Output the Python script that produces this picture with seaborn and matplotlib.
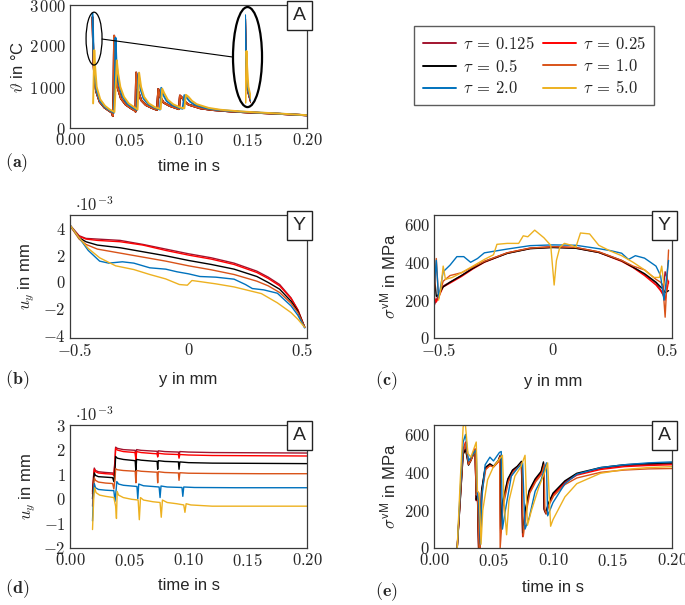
import numpy as np
import pandas as pd
import seaborn as sns
import matplotlib.pyplot as plt
from matplotlib.patches import Ellipse
from matplotlib.ticker import FuncFormatter, FixedLocator

# ── Series labels & colours ─────────────────────────────────────────────
TAUS = [r"$\tau\:=\:0.125$", r"$\tau\:=\:0.25$", r"$\tau\:=\:0.5$",
        r"$\tau\:=\:1.0$", r"$\tau\:=\:2.0$", r"$\tau\:=\:5.0$"]
COLORS = ["#A2142F", "#FF0000", "#000000", "#D95319", "#0072BD", "#EDB120"]

# ── (a) temperature at A: (time in s, temperature in °C) ────────────────
temp_a_red = [(0.0190, 2700), (0.0193, 2300), (0.0197, 1700), (0.0205, 1250), (0.0220, 900),
              (0.0250, 640), (0.0290, 500), (0.0330, 420), (0.0355, 370), (0.0362, 290),
              (0.0368, 900), (0.0372, 2250), (0.0380, 1500), (0.0400, 1000), (0.0430, 720),
              (0.0470, 570), (0.0510, 490), (0.0550, 420), (0.0553, 400), (0.0558, 1350),
              (0.0575, 900), (0.0600, 680), (0.0640, 560), (0.0690, 490), (0.0735, 440),
              (0.0745, 950), (0.0760, 760), (0.0790, 620), (0.0840, 540), (0.0900, 480),
              (0.0920, 460), (0.0928, 790), (0.0945, 740), (0.0970, 640), (0.1000, 570),
              (0.1100, 480), (0.1200, 440), (0.1350, 405), (0.1500, 380), (0.1700, 355),
              (0.2000, 310)]
temp_a_blue = [(0.0190, 2800), (0.0194, 2400), (0.0199, 1750), (0.0208, 1250), (0.0225, 900),
               (0.0255, 650), (0.0295, 510), (0.0335, 430), (0.0370, 370), (0.0378, 1000),
               (0.0384, 2200), (0.0392, 1600), (0.0410, 1100), (0.0440, 780), (0.0480, 600),
               (0.0520, 510), (0.0565, 440), (0.0578, 1330), (0.0595, 950), (0.0620, 720),
               (0.0660, 580), (0.0710, 500), (0.0760, 450), (0.0770, 980), (0.0785, 820),
               (0.0815, 660), (0.0860, 560), (0.0920, 490), (0.0950, 470), (0.0965, 800),
               (0.0985, 740), (0.1010, 650), (0.1050, 570), (0.1150, 480), (0.1250, 440),
               (0.1400, 405), (0.1550, 380), (0.1750, 352), (0.2000, 310)]
temp_a_yellow = [(0.0195, 600), (0.0205, 1900), (0.0212, 1500), (0.0225, 1000), (0.0255, 700),
                 (0.0295, 540), (0.0335, 450), (0.0375, 390), (0.0385, 1000), (0.0395, 1650),
                 (0.0405, 1350), (0.0425, 1000), (0.0455, 760), (0.0495, 600), (0.0540, 510),
                 (0.0570, 450), (0.0583, 1350), (0.0600, 1000), (0.0625, 760), (0.0665, 600),
                 (0.0715, 510), (0.0765, 460), (0.0778, 960), (0.0795, 850), (0.0825, 690),
                 (0.0870, 580), (0.0930, 500), (0.0965, 480), (0.0978, 810), (0.1000, 760),
                 (0.1030, 660), (0.1070, 580), (0.1170, 490), (0.1270, 445), (0.1420, 408),
                 (0.1570, 382), (0.1770, 352), (0.2000, 312)]

# ── (b) displacement along Y: y in mm, u_y in 1e-3 mm ───────────────────
y_b = [-0.52, -0.48, -0.45, -0.40, -0.30, -0.20, -0.10, 0.00, 0.10, 0.20, 0.30, 0.35, 0.40, 0.45, 0.48, 0.51]
uy_b_dark = [4.25, 3.45, 3.25, 3.2, 3.1, 2.8, 2.45, 2.1, 1.8, 1.4, 0.8, 0.35, -0.2, -1.2, -2.1, -3.4]
uy_b_red = [4.2, 3.4, 3.2, 3.1, 3.0, 2.75, 2.35, 2.0, 1.7, 1.3, 0.7, 0.25, -0.3, -1.25, -2.1, -3.4]
uy_b_black = [4.2, 3.3, 3.0, 2.75, 2.55, 2.25, 1.95, 1.6, 1.3, 0.95, 0.4, -0.05, -0.55, -1.45, -2.2, -3.4]
uy_b_orange = [4.2, 3.2, 2.8, 2.45, 2.15, 1.85, 1.55, 1.2, 0.9, 0.55, 0.05, -0.3, -0.8, -1.6, -2.3, -3.4]
y_b_blue = [-0.52, -0.48, -0.44, -0.39, -0.35, -0.29, -0.24, -0.17, -0.10, -0.05, 0.00, 0.05, 0.12,
            0.20, 0.25, 0.28, 0.33, 0.39, 0.45, 0.48, 0.51]
uy_b_blue = [4.25, 3.3, 2.35, 1.55, 1.4, 1.5, 1.4, 1.05, 0.95, 0.75, 0.6, 0.4, 0.35, 0.2, -0.2,
             -0.5, -0.6, -0.85, -1.8, -2.5, -3.45]
y_b_yellow = [-0.52, -0.48, -0.44, -0.39, -0.32, -0.24, -0.17, -0.10, -0.04, -0.005, 0.015, 0.05,
              0.12, 0.20, 0.32, 0.39, 0.45, 0.48, 0.51]
uy_b_yellow = [4.25, 3.3, 2.5, 1.8, 1.2, 0.92, 0.55, 0.22, -0.2, -0.25, 0.1, 0.02, -0.15, -0.38,
               -0.88, -1.57, -2.3, -2.8, -3.4]

# ── (c) von Mises stress along Y: y in mm, sigma in MPa ─────────────────
y_c = [-0.52, -0.51, -0.50, -0.48, -0.45, -0.40, -0.35, -0.30, -0.20, -0.10, 0.00, 0.10, 0.20,
       0.30, 0.35, 0.40, 0.45, 0.47, 0.48, 0.49, 0.505]
svm_c_dark = [170, 200, 230, 275, 295, 330, 370, 405, 450, 475, 483, 478, 455, 410, 375, 335, 290, 255, 235, 350, 290]
svm_c_red = [220, 190, 215, 270, 290, 325, 365, 400, 448, 473, 480, 475, 452, 405, 372, 330, 280, 250, 230, 200, 300]
svm_c_black = [350, 220, 230, 270, 295, 330, 368, 402, 447, 472, 478, 474, 452, 408, 374, 340, 295, 270, 260, 240, 250]
svm_c_orange = [200, 420, 210, 300, 330, 345, 375, 405, 450, 475, 482, 478, 455, 410, 380, 360, 310, 295, 280, 110, 465]
y_c_blue = [-0.52, -0.51, -0.50, -0.48, -0.45, -0.42, -0.39, -0.36, -0.33, -0.30, -0.25, -0.20, -0.10,
            0.00, 0.10, 0.20, 0.25, 0.30, 0.33, 0.36, 0.40, 0.45, 0.47, 0.485, 0.505]
svm_c_blue = [260, 410, 210, 350, 385, 430, 430, 400, 420, 450, 460, 470, 488, 492, 490, 472, 462,
              448, 415, 435, 422, 380, 330, 200, 410]
y_c_yellow = [-0.50, -0.49, -0.48, -0.47, -0.44, -0.40, -0.35, -0.30, -0.26, -0.245, -0.20, -0.15,
              -0.13, -0.11, -0.08, -0.04, -0.01, 0.005, 0.015, 0.03, 0.05, 0.08, 0.10, 0.12, 0.16,
              0.20, 0.25, 0.30, 0.35, 0.40, 0.44, 0.465, 0.475, 0.485]
svm_c_yellow = [200, 260, 380, 310, 320, 345, 380, 415, 440, 495, 500, 500, 540, 535, 570, 530, 490,
                280, 410, 480, 500, 490, 480, 555, 550, 490, 460, 435, 400, 360, 320, 320, 380, 280]

# ── (d) displacement at A: (time in s, u_y in 1e-3 mm) ──────────────────
uy_d_dark = [(0.0190, 0.3), (0.0200, 1.0), (0.0205, 1.25), (0.0215, 1.15), (0.0240, 1.1), (0.0300, 1.07),
             (0.0360, 1.05), (0.0370, 1.0), (0.0380, 1.6), (0.0385, 2.1), (0.0400, 2.05), (0.0450, 2.0),
             (0.0550, 1.97), (0.0556, 1.6), (0.0562, 2.0), (0.0600, 1.97), (0.0700, 1.94), (0.0735, 1.93),
             (0.0740, 1.75), (0.0745, 1.95), (0.0800, 1.92), (0.0915, 1.9), (0.0920, 1.75), (0.0927, 1.92),
             (0.1000, 1.9), (0.1200, 1.88), (0.1600, 1.87), (0.2000, 1.86)]
uy_d_red = [(0.0190, 0.2), (0.0200, 0.95), (0.0205, 1.2), (0.0215, 1.1), (0.0240, 1.05), (0.0300, 1.02),
            (0.0360, 1.0), (0.0370, 0.95), (0.0380, 1.5), (0.0385, 2.05), (0.0400, 1.98), (0.0450, 1.92),
            (0.0550, 1.88), (0.0556, 1.55), (0.0562, 1.92), (0.0600, 1.88), (0.0700, 1.84), (0.0735, 1.83),
            (0.0740, 1.7), (0.0745, 1.85), (0.0800, 1.82), (0.0915, 1.8), (0.0920, 1.65), (0.0927, 1.8),
            (0.1000, 1.78), (0.1200, 1.76), (0.1600, 1.75), (0.2000, 1.74)]
uy_d_black = [(0.0190, 0.0), (0.0200, 0.8), (0.0205, 1.05), (0.0215, 0.95), (0.0240, 0.9), (0.0300, 0.88),
              (0.0360, 0.86), (0.0370, 0.7), (0.0380, 1.2), (0.0385, 1.72), (0.0400, 1.65), (0.0450, 1.6),
              (0.0550, 1.55), (0.0556, 1.1), (0.0562, 1.6), (0.0600, 1.57), (0.0700, 1.53), (0.0735, 1.52),
              (0.0740, 1.2), (0.0745, 1.55), (0.0800, 1.52), (0.0915, 1.5), (0.0920, 1.2), (0.0927, 1.5),
              (0.1000, 1.47), (0.1200, 1.45), (0.1600, 1.44), (0.2000, 1.43)]
uy_d_orange = [(0.0190, -0.3), (0.0200, 0.6), (0.0205, 0.85), (0.0215, 0.75), (0.0240, 0.68), (0.0300, 0.64),
               (0.0360, 0.62), (0.0370, 0.4), (0.0380, 0.8), (0.0385, 1.22), (0.0400, 1.18), (0.0450, 1.15),
               (0.0550, 1.12), (0.0556, 0.65), (0.0562, 1.15), (0.0600, 1.12), (0.0700, 1.09), (0.0735, 1.08),
               (0.0740, 0.65), (0.0745, 1.1), (0.0800, 1.07), (0.0915, 1.05), (0.0920, 0.75), (0.0927, 1.06),
               (0.1000, 1.04), (0.1200, 1.03), (0.1600, 1.02), (0.2000, 1.02)]
uy_d_blue = [(0.0190, -0.9), (0.0200, 0.4), (0.0205, 0.62), (0.0215, 0.45), (0.0240, 0.38), (0.0300, 0.35),
             (0.0370, 0.33), (0.0380, -0.1), (0.0390, 0.4), (0.0395, 0.7), (0.0410, 0.6), (0.0450, 0.55),
             (0.0565, 0.5), (0.0572, 0.0), (0.0580, 0.6), (0.0620, 0.53), (0.0700, 0.5), (0.0752, 0.48),
             (0.0760, 0.05), (0.0768, 0.52), (0.0820, 0.48), (0.0945, 0.46), (0.0952, 0.1), (0.0960, 0.48),
             (0.1050, 0.46), (0.1400, 0.45), (0.2000, 0.45)]
uy_d_yellow = [(0.0190, -1.25), (0.0200, 0.0), (0.0208, 0.45), (0.0220, 0.25), (0.0250, 0.15), (0.0300, 0.1),
               (0.0370, 0.05), (0.0385, -0.3), (0.0392, -0.8), (0.0398, 0.3), (0.0410, 0.15), (0.0450, 0.05),
               (0.0520, -0.02), (0.0575, -0.05), (0.0585, -0.85), (0.0595, 0.05), (0.0620, -0.05),
               (0.0700, -0.12), (0.0760, -0.15), (0.0770, -0.75), (0.0780, -0.05), (0.0820, -0.15),
               (0.0900, -0.2), (0.0960, -0.25), (0.0970, -0.55), (0.0980, -0.2), (0.1020, -0.25),
               (0.1200, -0.3), (0.1600, -0.3), (0.2000, -0.3)]

# ── (e) von Mises stress at A: (time in s, sigma in MPa) ────────────────
svm_e_dark = [(0.0195, 0), (0.0220, 250), (0.0245, 500), (0.0265, 530), (0.0290, 440), (0.0310, 465),
              (0.0345, 520), (0.0355, 250), (0.0365, 290), (0.0375, 0), (0.0385, 0), (0.0400, 300),
              (0.0430, 420), (0.0470, 440), (0.0500, 430), (0.0540, 460), (0.0555, 490), (0.0560, 90),
              (0.0575, 230), (0.0620, 360), (0.0660, 410), (0.0700, 430), (0.0735, 455), (0.0745, 60),
              (0.0770, 200), (0.0800, 300), (0.0850, 360), (0.0900, 400), (0.0920, 450), (0.0926, 200),
              (0.0940, 180), (0.0960, 230), (0.1000, 285), (0.1100, 350), (0.1200, 390), (0.1400, 420),
              (0.1600, 435), (0.1800, 440), (0.2000, 445)]
svm_e_red = [(0.0195, 0), (0.0220, 270), (0.0245, 520), (0.0265, 560), (0.0290, 445), (0.0310, 465),
             (0.0345, 525), (0.0355, 260), (0.0365, 300), (0.0375, 0), (0.0385, 0), (0.0400, 290),
             (0.0430, 415), (0.0470, 438), (0.0500, 428), (0.0540, 455), (0.0555, 480), (0.0560, 80),
             (0.0575, 220), (0.0620, 350), (0.0660, 405), (0.0700, 428), (0.0735, 450), (0.0745, 70),
             (0.0770, 190), (0.0800, 290), (0.0850, 355), (0.0900, 395), (0.0920, 445), (0.0926, 210),
             (0.0940, 185), (0.0960, 225), (0.1000, 280), (0.1100, 345), (0.1200, 385), (0.1400, 415),
             (0.1600, 430), (0.1800, 436), (0.2000, 440)]
svm_e_black = [(0.0195, 0), (0.0220, 245), (0.0245, 495), (0.0265, 520), (0.0290, 438), (0.0310, 462),
               (0.0345, 515), (0.0355, 255), (0.0365, 285), (0.0375, 0), (0.0385, 0), (0.0400, 305),
               (0.0430, 425), (0.0470, 445), (0.0500, 432), (0.0540, 462), (0.0555, 485), (0.0560, 100),
               (0.0575, 240), (0.0620, 365), (0.0660, 412), (0.0700, 432), (0.0735, 458), (0.0745, 80),
               (0.0770, 210), (0.0800, 305), (0.0850, 365), (0.0900, 405), (0.0920, 455), (0.0926, 205),
               (0.0940, 185), (0.0960, 235), (0.1000, 290), (0.1100, 355), (0.1200, 395), (0.1400, 425),
               (0.1600, 440), (0.1800, 446), (0.2000, 450)]
svm_e_orange = [(0.0195, 0), (0.0220, 260), (0.0245, 515), (0.0265, 550), (0.0290, 442), (0.0310, 462),
                (0.0345, 518), (0.0355, 280), (0.0365, 300), (0.0378, 0), (0.0388, 0), (0.0405, 300),
                (0.0435, 415), (0.0470, 435), (0.0500, 428), (0.0540, 455), (0.0552, 480), (0.0556, 0),
                (0.0580, 220), (0.0625, 350), (0.0665, 400), (0.0705, 425), (0.0738, 450), (0.0750, 60),
                (0.0775, 190), (0.0805, 290), (0.0855, 350), (0.0905, 390), (0.0925, 440), (0.0932, 200),
                (0.0945, 180), (0.0965, 225), (0.1005, 275), (0.1100, 335), (0.1200, 370), (0.1400, 400),
                (0.1600, 412), (0.1800, 418), (0.2000, 420)]
svm_e_blue = [(0.0195, 0), (0.0220, 300), (0.0245, 560), (0.0265, 600), (0.0290, 460), (0.0310, 480),
              (0.0355, 520), (0.0365, 280), (0.0375, 250), (0.0390, 20), (0.0400, 250), (0.0430, 440),
              (0.0470, 480), (0.0500, 460), (0.0550, 505), (0.0565, 510), (0.0575, 100), (0.0600, 200),
              (0.0650, 380), (0.0700, 420), (0.0745, 450), (0.0765, 100), (0.0800, 160), (0.0850, 300),
              (0.0900, 360), (0.0945, 450), (0.0955, 170), (0.1000, 240), (0.1100, 340), (0.1200, 390),
              (0.1400, 425), (0.1600, 440), (0.1800, 450), (0.2000, 455)]
svm_e_yellow = [(0.0195, 0), (0.0220, 350), (0.0245, 640), (0.0260, 680), (0.0285, 500), (0.0310, 480),
                (0.0355, 560), (0.0365, 300), (0.0380, 290), (0.0395, 20), (0.0410, 200), (0.0450, 360),
                (0.0500, 430), (0.0550, 470), (0.0575, 490), (0.0590, 230), (0.0610, 70), (0.0630, 250),
                (0.0680, 380), (0.0730, 430), (0.0765, 490), (0.0785, 120), (0.0820, 200), (0.0880, 320),
                (0.0930, 400), (0.0955, 450), (0.0980, 115), (0.1000, 150), (0.1100, 270), (0.1200, 340),
                (0.1400, 395), (0.1600, 415), (0.1800, 425), (0.2000, 430)]


def frame_from_pairs(series):
    rows = []
    for tau, pairs in zip(TAUS, series):
        for x, v in pairs:
            rows.append((tau, x, v))
    return pd.DataFrame(rows, columns=["tau", "x", "v"])


def frame_from_lists(series):
    rows = []
    for tau, (xs, vs) in zip(TAUS, series):
        for x, v in zip(xs, vs):
            rows.append((tau, x, v))
    return pd.DataFrame(rows, columns=["tau", "x", "v"])


df_a = frame_from_pairs([temp_a_red, temp_a_red, temp_a_red, temp_a_red, temp_a_blue, temp_a_yellow])
df_b = frame_from_lists([(y_b, uy_b_dark), (y_b, uy_b_red), (y_b, uy_b_black), (y_b, uy_b_orange),
                         (y_b_blue, uy_b_blue), (y_b_yellow, uy_b_yellow)])
df_c = frame_from_lists([(y_c, svm_c_dark), (y_c, svm_c_red), (y_c, svm_c_black), (y_c, svm_c_orange),
                         (y_c_blue, svm_c_blue), (y_c_yellow, svm_c_yellow)])
df_d = frame_from_pairs([uy_d_dark, uy_d_red, uy_d_black, uy_d_orange, uy_d_blue, uy_d_yellow])
df_e = frame_from_pairs([svm_e_dark, svm_e_red, svm_e_black, svm_e_orange, svm_e_blue, svm_e_yellow])

# ── Style ───────────────────────────────────────────────────────────────
sns.set_theme(style="white")
plt.rcParams["font.family"] = ["Liberation Sans", "DejaVu Sans"]
plt.rcParams["mathtext.fontset"] = "cm"
plt.rcParams["axes.edgecolor"] = "#3a3a3a"
plt.rcParams["axes.linewidth"] = 0.9
FS = 12

W, H = 685, 605
fig = plt.figure(figsize=(W / 100, H / 100), dpi=100)


def add_axes(left, top, right, bottom):
    return fig.add_axes([left / W, 1 - bottom / H, (right - left) / W, (bottom - top) / H])


ax_a = add_axes(70, 5, 307, 128)
ax_b = add_axes(70, 215, 307, 338)
ax_c = add_axes(434, 215, 672, 338)
ax_d = add_axes(70, 425, 307, 548)
ax_e = add_axes(434, 425, 672, 548)


def draw(ax, df, lw, legend=False):
    sns.lineplot(data=df, x="x", y="v", hue="tau", hue_order=TAUS, palette=COLORS,
                 estimator=None, sort=False, lw=lw, ax=ax, legend=legend)


fmt_time = FuncFormatter(lambda v, p: f"${v:.2f}$")
fmt_int = FuncFormatter(lambda v, p: f"${v:.0f}$")
fmt_thou = FuncFormatter(lambda v, p: "$" + f"{v:,.0f}".replace(",", r"\,") + "$")
fmt_pos = FuncFormatter(lambda v, p: "$" + (f"{v:g}" if abs(v) > 1e-9 else "0") + "$")


def style(ax, xlabel, ylabel, xpad=5, ypad=4):
    ax.set_xlabel(xlabel, fontsize=FS, labelpad=xpad)
    ax.set_ylabel(ylabel, fontsize=FS, labelpad=ypad)
    ax.tick_params(labelsize=FS, direction="in", length=2.5, width=0.6, pad=3)
    for s in ax.spines.values():
        s.set_visible(True)


def corner_box(ax, text):
    ax.text(0.995, 0.985, text, transform=ax.transAxes, ha="right", va="top", fontsize=FS + 2,
            bbox=dict(boxstyle="square,pad=0.3", fc="white", ec="#222222", lw=1.0), zorder=10)


# (a)
draw(ax_a, df_a, 1.4, legend=True)
handles, labels = ax_a.get_legend_handles_labels()
ax_a.get_legend().remove()
ax_a.set_xlim(0, 0.2)
ax_a.set_ylim(0, 3000)
ax_a.xaxis.set_major_locator(FixedLocator([0, 0.05, 0.10, 0.15, 0.20]))
ax_a.yaxis.set_major_locator(FixedLocator([0, 1000, 2000, 3000]))
ax_a.xaxis.set_major_formatter(fmt_time)
ax_a.yaxis.set_major_formatter(fmt_thou)
style(ax_a, "time in s", r"$\vartheta$ in °C", xpad=7, ypad=2)
corner_box(ax_a, "A")
ax_a.add_patch(Ellipse((0.0203, 2180), 0.0135, 1290, fill=False, ec="black", lw=0.9, zorder=6))
ax_a.add_patch(Ellipse((0.1498, 1730), 0.0245, 2440, fill=False, ec="black", lw=1.6, zorder=6))
ax_a.plot([0.027, 0.1376], [2170, 1730], color="black", lw=0.8, zorder=6)
ins = ax_a.inset_axes([0.1475, 520, 0.005, 2330], transform=ax_a.transData)
draw(ins, df_a, 1.4)
ins.set_xlim(0.0187, 0.0250)
ins.set_ylim(500, 2900)
ins.axis("off")
ins.patch.set_alpha(0)

# (b)
draw(ax_b, df_b, 1.0)
ax_b.set_xlim(-0.52, 0.52)
ax_b.set_ylim(-4.2, 5.0)
ax_b.xaxis.set_major_locator(FixedLocator([-0.5, 0, 0.5]))
ax_b.yaxis.set_major_locator(FixedLocator([-4, -2, 0, 2, 4]))
ax_b.xaxis.set_major_formatter(fmt_pos)
ax_b.yaxis.set_major_formatter(fmt_int)
style(ax_b, "y in mm", r"$u_y$ in mm", xpad=9)
corner_box(ax_b, "Y")
ax_b.text(0.02, 1.01, r"$\cdot 10^{-3}$", transform=ax_b.transAxes, ha="left", va="bottom", fontsize=FS)

# (c)
draw(ax_c, df_c, 1.0)
ax_c.set_xlim(-0.52, 0.52)
ax_c.set_ylim(0, 650)
ax_c.xaxis.set_major_locator(FixedLocator([-0.5, 0, 0.5]))
ax_c.yaxis.set_major_locator(FixedLocator([0, 200, 400, 600]))
ax_c.xaxis.set_major_formatter(fmt_pos)
ax_c.yaxis.set_major_formatter(fmt_int)
style(ax_c, "y in mm", r"$\sigma^{\mathsf{vM}}$ in MPa", xpad=11)
corner_box(ax_c, "Y")

# (d)
draw(ax_d, df_d, 1.0)
ax_d.set_xlim(0, 0.2)
ax_d.set_ylim(-2, 3)
ax_d.xaxis.set_major_locator(FixedLocator([0, 0.05, 0.10, 0.15, 0.20]))
ax_d.yaxis.set_major_locator(FixedLocator([-2, -1, 0, 1, 2, 3]))
ax_d.xaxis.set_major_formatter(fmt_time)
ax_d.yaxis.set_major_formatter(fmt_int)
style(ax_d, "time in s", r"$u_y$ in mm", xpad=6)
corner_box(ax_d, "A")
ax_d.text(0.02, 1.01, r"$\cdot 10^{-3}$", transform=ax_d.transAxes, ha="left", va="bottom", fontsize=FS)

# (e)
draw(ax_e, df_e, 1.0)
ax_e.set_xlim(0, 0.2)
ax_e.set_ylim(0, 650)
ax_e.xaxis.set_major_locator(FixedLocator([0, 0.05, 0.10, 0.15, 0.20]))
ax_e.yaxis.set_major_locator(FixedLocator([0, 200, 400, 600]))
ax_e.xaxis.set_major_formatter(fmt_time)
ax_e.yaxis.set_major_formatter(fmt_int)
style(ax_e, "time in s", r"$\sigma^{\mathsf{vM}}$ in MPa", xpad=8)
corner_box(ax_e, "A")

# panel letters
for lab, x, y in [("a", 5, 163), ("b", 5, 380), ("c", 375, 381), ("d", 5, 589), ("e", 375, 592)]:
    fig.text(x / W, 1 - y / H, r"$\mathbf{(" + lab + ")}$", fontsize=FS + 1, ha="left", va="center")

# legend, filled row by row as in the reference
order = [0, 2, 4, 1, 3, 5]
fig.legend([handles[i] for i in order], [labels[i] for i in order], loc="upper left",
           bbox_to_anchor=(406 / W, 1 - 18 / H), ncol=2,
           frameon=True, fancybox=False, edgecolor="#333333", fontsize=FS, handlelength=2.0,
           columnspacing=0.5, borderpad=0.5, labelspacing=0.35, handletextpad=0.4)
fig.legends[0].get_frame().set_linewidth(1.0)

fig.savefig("out.png", dpi=100)
